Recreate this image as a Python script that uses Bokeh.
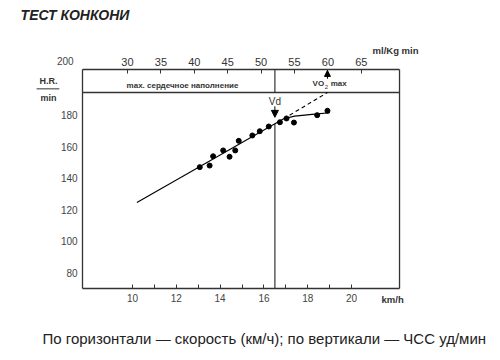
from bokeh.plotting import figure
from bokeh.models import Range1d, LinearAxis, FixedTicker, Label, Arrow, NormalHead
from bokeh.embed import file_html
from bokeh.resources import INLINE

# ---- data ----
speed = [13.07, 13.52, 13.68, 14.14, 14.43, 14.69, 14.85, 15.47, 15.81, 16.22, 16.73, 17.03, 17.37, 18.43, 18.9]
hr = [146.9, 147.9, 153.8, 157.5, 153.5, 157.5, 163.6, 167.0, 169.7, 172.7, 175.4, 177.8, 175.2, 179.9, 182.7]

reg_x = [10.2, 16.9]
reg_y = [124.5, 177.6]
dash_x = [16.9, 18.9]
dash_y = [177.6, 194.3]
curve_x = [16.9, 17.4, 18.2, 19.0]
curve_y = [177.6, 179.3, 180.4, 181.4]

vd_speed = 16.5
band_hr = 194.3
vo2max_speed = 18.9

# chart box (speed / heart-rate limits) and matching VO2 limits
box_x0, box_x1 = 7.72, 22.19
box_y0, box_y1 = 69.8, 208.9
vo2_x0, vo2_x1 = 23.26, 70.72

bottom_ticks = [10, 12, 14, 16, 18, 20]
bottom_minor = [11, 13, 15, 17, 19]
left_ticks = [80, 100, 120, 140, 160, 180]
top_ticks = [30, 35, 40, 45, 50, 55, 60, 65]

FONT = "Liberation Sans"
INK = "#333333"

p = figure(width=500, height=360,
           x_range=Range1d(3.973, 26.80), y_range=Range1d(24.13, 252.7),
           output_backend="svg", toolbar_location=None,
           x_axis_location=None, y_axis_location=None,
           min_border=0, min_border_left=0, min_border_right=0,
           min_border_top=0, min_border_bottom=0)
p.extra_x_ranges = {"vo2": Range1d(10.99, 85.84)}
p.xgrid.visible = False
p.ygrid.visible = False
p.outline_line_color = None
p.background_fill_color = "white"
p.border_fill_color = "white"

xa = LinearAxis(ticker=FixedTicker(ticks=bottom_ticks, minor_ticks=bottom_minor),
                fixed_location=box_y0, bounds=(box_x0, box_x1))
xa.major_tick_in = 4
xa.major_tick_out = 0
xa.minor_tick_in = 4
xa.minor_tick_out = 0
xa.axis_line_color = INK
xa.axis_line_width = 1.3
xa.major_tick_line_color = INK
xa.minor_tick_line_color = INK
xa.major_label_text_font = FONT
xa.major_label_text_font_size = "10px"
xa.major_label_text_color = "#444444"
xa.major_label_standoff = 5
p.add_layout(xa, "below")

ya = LinearAxis(ticker=FixedTicker(ticks=left_ticks), fixed_location=box_x0,
                bounds=(box_y0, box_y1))
ya.major_tick_in = 0
ya.major_tick_out = 0
ya.minor_tick_line_color = None
ya.axis_line_color = INK
ya.axis_line_width = 1.3
ya.major_label_text_font = FONT
ya.major_label_text_font_size = "10px"
ya.major_label_text_color = "#444444"
ya.major_label_standoff = 5
p.add_layout(ya, "left")

top = LinearAxis(x_range_name="vo2", ticker=FixedTicker(ticks=top_ticks),
                 fixed_location=box_y1, bounds=(vo2_x0, vo2_x1))
top.major_tick_in = 4
top.major_tick_out = 0
top.minor_tick_line_color = None
top.axis_line_color = INK
top.axis_line_width = 1.3
top.major_tick_line_color = INK
top.major_label_text_font = FONT
top.major_label_text_font_size = "11px"
top.major_label_text_color = "#333333"
top.major_label_standoff = 3
p.add_layout(top, "above")

# right border and band line
p.segment(x0=[box_x1, box_x0], y0=[box_y0, band_hr], x1=[box_x1, box_x1], y1=[box_y1, band_hr],
          line_color=INK, line_width=1.3)

# vertical Vd line (top part in band, lower part under regression)
p.segment(x0=[vd_speed, vd_speed], y0=[band_hr, box_y0], x1=[vd_speed, vd_speed], y1=[box_y1, 174.4],
          line_color=INK, line_width=1.2)

# lines
p.line(reg_x, reg_y, line_color="black", line_width=1.1)
p.line(dash_x, dash_y, line_color="black", line_width=1.1, line_dash="4 3")
p.line(curve_x, curve_y, line_color="black", line_width=1.1)

# points
p.scatter(speed, hr, size=5, color="black")

# arrows
p.add_layout(Arrow(end=NormalHead(size=7, fill_color="black", line_color="black"),
                   x_start=vd_speed, y_start=185.5, x_end=vd_speed, y_end=178.5,
                   line_color="black", line_width=1))
p.add_layout(Arrow(end=NormalHead(size=6, fill_color="black", line_color="black"),
                   x_start=vo2max_speed, y_start=203.0, x_end=vo2max_speed, y_end=208.3,
                   line_color="black", line_width=1))

# H.R. / min fraction bar
p.segment(x0=[5.62], y0=[196.6], x1=[6.66], y1=[196.6], line_color=INK, line_width=1)


def lab(x, y, text, size="9px", style="normal", align="left", base="middle", color=INK):
    p.add_layout(Label(x=x, y=y, text=text, text_font=FONT, text_font_size=size,
                       text_font_style=style, text_align=align, text_baseline=base,
                       text_color=color))


lab(12.28, 198.7, "max. сердечное наполнение", size="8px", style="bold", align="center")
lab(18.22, 200.0, "VO", size="8px", style="bold")
lab(18.78, 197.6, "2", size="6px")
lab(19.05, 200.0, "max", size="8px", style="bold")
lab(vd_speed, 188.6, "Vd", size="10px", align="center")

lab(4.89, 243.8, "ТЕСТ КОНКОНИ", size="14px", style="bold italic", color="#222222")
lab(20.96, 221.0, "ml/Kg min", size="9.5px", style="bold")
lab(21.37, 62.9, "km/h", size="9.5px", style="bold")
lab(7.31, 214.0, "200", size="10px", align="right", color="#444444")
lab(6.16, 201.3, "H.R.", size="9px", style="bold", align="center")
lab(6.16, 191.1, "min", size="9px", style="bold", align="center")
lab(5.89, 38.1, "По горизонтали — скорость (км/ч); по вертикали — ЧСС уд/мин",
    size="15px", color="#222222")

open("out.html", "w").write(file_html(p, INLINE))
